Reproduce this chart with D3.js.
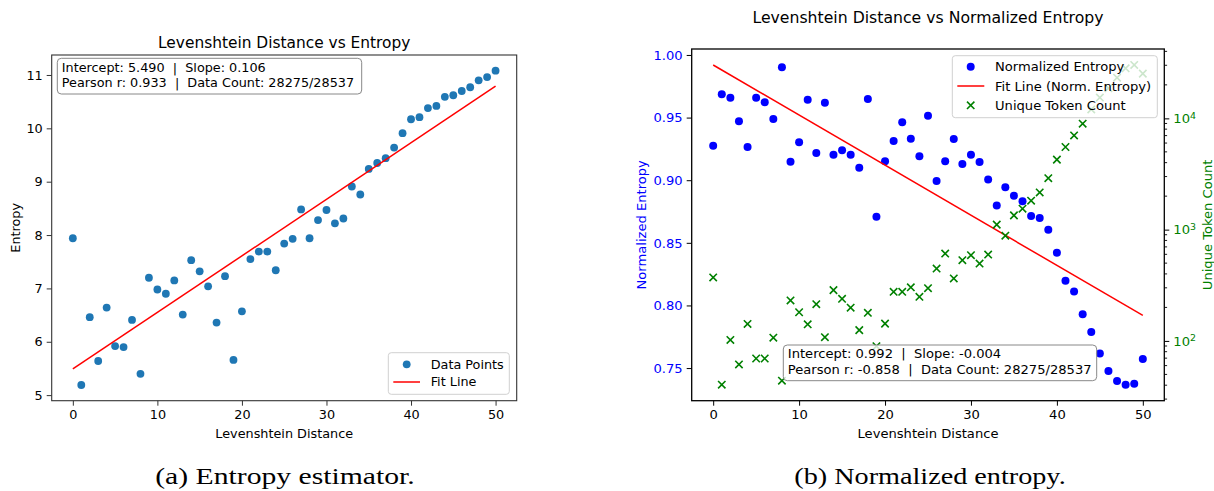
<!DOCTYPE html>
<html>
<head>
<meta charset="utf-8">
<script src="https://cdn.jsdelivr.net/npm/d3@7"></script>
<style>
  html, body { margin: 0; padding: 0; background: #fff; }
  svg { display: block; }
  text { font-family: "DejaVu Sans", sans-serif; }
  .caption { font-family: "Liberation Serif", "DejaVu Serif", serif; }
</style>
</head>
<body>
<svg id="fig" width="1214" height="491"></svg>
<script>
// Levenshtein distance buckets shared by both panels
const distances = [0,1,2,3,4,5,6,7,8,9,10,11,12,13,14,15,16,17,18,19,20,21,22,23,24,25,
  26,27,28,29,30,31,32,33,34,35,36,37,38,39,40,41,42,43,44,45,46,47,48,49,50];

// Panel (a): entropy per distance
const entropy = [7.94,5.19,6.46,5.64,6.64,5.92,5.90,6.41,5.40,7.20,6.98,6.90,7.15,6.51,7.53,7.32,
  7.04,6.36,7.23,5.66,6.57,7.55,7.69,7.69,7.34,7.84,7.93,8.48,7.94,8.28,8.47,8.22,8.31,8.91,
  8.76,9.24,9.35,9.44,9.64,9.91,10.17,10.21,10.38,10.42,10.59,10.62,10.70,10.77,10.90,10.96,11.08];
const entropyFit = { intercept: 5.490, slope: 0.106, r: 0.933 };

// Panel (b): normalized entropy and unique token counts per distance
const normEntropy = [0.9276,0.9686,0.9659,0.9470,0.9265,0.9659,0.9622,0.9489,0.9902,0.9148,0.9303,
  0.9643,0.9217,0.9619,0.9204,0.9239,0.9204,0.9100,0.9649,0.8708,0.9151,0.9313,0.9462,0.9332,
  0.9191,0.9515,0.8994,0.9151,0.9329,0.9129,0.9204,0.9145,0.9006,0.8799,0.8943,0.8876,0.8831,
  0.8714,0.8698,0.8605,0.8421,0.8197,0.8112,0.7929,0.7788,0.7617,0.7476,0.7396,0.7367,0.7375,0.7572];
const uniqueTokens = [372,40.4,102,61.4,142,69.5,69.5,107,43.9,231,181,141,214,108,286,239,199,125,
  179,89.7,143,276,276,303,249,298,447,609,364,531,589,496,597,1109,883,1343,1542,1820,2158,2898,
  4258,5530,7030,8950,12030,15390,18670,23220,28180,30180,25240];
const normFit = { intercept: 0.992, slope: -0.004, r: -0.858 };

const dataCount = "28275/28537";
const xTicks = [0,10,20,30,40,50];
const entropyTicks = [5,6,7,8,9,10,11];
const normTicks = [0.75,0.80,0.85,0.90,0.95,1.00];
const tokenTicks = [100,1000,10000];

const svg = d3.select("#fig");

// matplotlib-style autoscale: 5% padding on each side
function padded(lo, hi) { const m = (hi - lo) * 0.05; return [lo - m, hi + m]; }

function fitValue(fit, x) { return fit.intercept + fit.slope * x; }

function styleAxis(g, color, size, labelColor) {
  g.select(".domain").remove();
  g.selectAll(".tick line").attr("stroke", color).attr("stroke-width", 1);
  g.selectAll(".tick text").attr("fill", labelColor || "#000")
    .style("font-size", size + "px").style("font-family", "DejaVu Sans");
}

function statBox(g, x, y, w, h, lines, fs) {
  g.append("rect").attr("x", x).attr("y", y).attr("width", w).attr("height", h)
    .attr("rx", 4).attr("fill", "rgba(255,255,255,0.8)").attr("stroke", "#888").attr("stroke-width", 1);
  lines.forEach((t, i) => {
    g.append("text").attr("x", x + 4.5).attr("y", y + 13.4 + i * 15.2)
      .style("font-size", fs + "px").attr("fill", "#000").attr("xml:space", "preserve").text(t);
  });
}

function legendBox(g, x, y, w, h) {
  g.append("rect").attr("x", x).attr("y", y).attr("width", w).attr("height", h)
    .attr("rx", 3).attr("fill", "rgba(255,255,255,0.8)").attr("stroke", "#d0d0d0").attr("stroke-width", 1);
}

function crossPath(cx, cy, s) {
  return `M${cx - s},${cy - s}L${cx + s},${cy + s}M${cx - s},${cy + s}L${cx + s},${cy - s}`;
}

function caption(x, text) {
  svg.append("text").attr("class", "caption").attr("x", x).attr("y", 484)
    .attr("text-anchor", "middle").style("font-size", "23.5px")
    .attr("textLength", text.length * 11.8).attr("lengthAdjust", "spacingAndGlyphs").text(text);
}

// ---------------- Panel (a) ----------------
(function () {
  const L = 51.7, R = 516.7, T = 55, B = 400.7, fs = 12.8;
  const fitEnds = [fitValue(entropyFit, distances[0]), fitValue(entropyFit, distances[distances.length - 1])];
  const x = d3.scaleLinear().domain(padded(d3.min(distances), d3.max(distances))).range([L, R]);
  const y = d3.scaleLinear()
    .domain(padded(d3.min(entropy.concat(fitEnds)), d3.max(entropy.concat(fitEnds)))).range([B, T]);
  const g = svg.append("g");

  g.append("text").attr("x", (L + R) / 2).attr("y", 48).attr("text-anchor", "middle")
    .style("font-size", "15.4px").text("Levenshtein Distance vs Entropy");

  const gx = g.append("g").attr("transform", `translate(0,${B})`)
    .call(d3.axisBottom(x).tickValues(xTicks).tickSize(5).tickPadding(4).tickFormat(d3.format("d")));
  styleAxis(gx, "#333", fs);
  const gy = g.append("g").attr("transform", `translate(${L},0)`)
    .call(d3.axisLeft(y).tickValues(entropyTicks).tickSize(5).tickPadding(4).tickFormat(d3.format("d")));
  styleAxis(gy, "#333", fs);

  g.append("text").attr("x", (L + R) / 2).attr("y", 438).attr("text-anchor", "middle")
    .style("font-size", fs + "px").text("Levenshtein Distance");
  g.append("text").attr("transform", `translate(19.5,${(T + B) / 2}) rotate(-90)`)
    .attr("text-anchor", "middle").style("font-size", fs + "px").text("Entropy");

  g.selectAll("circle.pt").data(distances).join("circle").attr("class", "pt")
    .attr("cx", d => x(d)).attr("cy", (d, i) => y(entropy[i])).attr("r", 3.9).attr("fill", "#1f77b4");

  g.append("line")
    .attr("x1", x(distances[0])).attr("y1", y(fitEnds[0]))
    .attr("x2", x(distances[distances.length - 1])).attr("y2", y(fitEnds[1]))
    .attr("stroke", "#ff0000").attr("stroke-width", 1.5);

  g.append("rect").attr("x", L).attr("y", T).attr("width", R - L).attr("height", B - T)
    .attr("fill", "none").attr("stroke", "#333").attr("stroke-width", 1.1);

  statBox(g, 57.3, 58.3, 304.4, 35.7, [
    `Intercept: ${entropyFit.intercept.toFixed(3)}  |  Slope: ${entropyFit.slope.toFixed(3)}`,
    `Pearson r: ${entropyFit.r.toFixed(3)}  |  Data Count: ${dataCount}`], fs);

  legendBox(g, 388.3, 352.7, 121, 41.6);
  g.append("circle").attr("cx", 406.7).attr("cy", 364.3).attr("r", 3.9).attr("fill", "#1f77b4");
  g.append("line").attr("x1", 393.3).attr("x2", 420).attr("y1", 382).attr("y2", 382)
    .attr("stroke", "#ff0000").attr("stroke-width", 1.5);
  g.append("text").attr("x", 430.7).attr("y", 364.3).attr("dy", "0.35em").style("font-size", fs + "px").text("Data Points");
  g.append("text").attr("x", 430.7).attr("y", 382).attr("dy", "0.35em").style("font-size", fs + "px").text("Fit Line");

  caption(285, "(a) Entropy estimator.");
})();

// ---------------- Panel (b) ----------------
(function () {
  const L = 691.7, R = 1164.3, T = 49, B = 400.7, fs = 13.1;
  const fitEnds = [fitValue(normFit, distances[0]), fitValue(normFit, distances[distances.length - 1])];
  const x = d3.scaleLinear().domain(padded(d3.min(distances), d3.max(distances))).range([L, R]);
  const y = d3.scaleLinear()
    .domain(padded(d3.min(normEntropy.concat(fitEnds)), d3.max(normEntropy.concat(fitEnds)))).range([B, T]);
  const logExt = padded(Math.log10(d3.min(uniqueTokens)), Math.log10(d3.max(uniqueTokens)));
  const y2 = d3.scaleLog().domain([Math.pow(10, logExt[0]), Math.pow(10, logExt[1])]).range([B, T]);
  const g = svg.append("g");

  g.append("text").attr("x", (L + R) / 2).attr("y", 22.5).attr("text-anchor", "middle")
    .style("font-size", "15.7px").text("Levenshtein Distance vs Normalized Entropy");

  const gx = g.append("g").attr("transform", `translate(0,${B})`)
    .call(d3.axisBottom(x).tickValues(xTicks).tickSize(5).tickPadding(4).tickFormat(d3.format("d")));
  styleAxis(gx, "#000", fs);
  const gy = g.append("g").attr("transform", `translate(${L},0)`)
    .call(d3.axisLeft(y).tickValues(normTicks).tickSize(5).tickPadding(4).tickFormat(d3.format(".2f")));
  styleAxis(gy, "#000", fs, "#0000ff");

  // log axis on the right: majors with exponent labels, minors at 2..9 per decade
  const [lo, hi] = y2.domain();
  const minor = [];
  for (let e = Math.floor(Math.log10(lo)); e <= Math.ceil(Math.log10(hi)); e++) {
    for (let k = 2; k <= 9; k++) { const v = k * Math.pow(10, e); if (v >= lo && v <= hi) minor.push(v); }
  }
  g.selectAll("line.minor").data(minor).join("line").attr("class", "minor")
    .attr("x1", R).attr("x2", R + 2.8).attr("y1", d => y2(d)).attr("y2", d => y2(d))
    .attr("stroke", "#000").attr("stroke-width", 0.9);
  const gr = g.append("g").attr("transform", `translate(${R},0)`)
    .call(d3.axisRight(y2).tickValues(tokenTicks).tickSize(5).tickPadding(4).tickFormat(() => ""));
  styleAxis(gr, "#000", fs, "#008000");
  gr.selectAll(".tick text").each(function (d) {
    const t = d3.select(this);
    t.text(null);
    t.append("tspan").text("10");
    t.append("tspan").attr("dy", "-0.45em").style("font-size", (fs * 0.72) + "px").text(Math.round(Math.log10(d)));
  });

  g.append("text").attr("x", (L + R) / 2).attr("y", 438).attr("text-anchor", "middle")
    .style("font-size", fs + "px").text("Levenshtein Distance");
  g.append("text").attr("transform", `translate(646,${(T + B) / 2}) rotate(-90)`)
    .attr("text-anchor", "middle").attr("fill", "#0000ff").style("font-size", fs + "px").text("Normalized Entropy");
  g.append("text").attr("transform", `translate(1212,${(T + B) / 2}) rotate(-90)`)
    .attr("text-anchor", "middle").attr("fill", "#008000").style("font-size", fs + "px").text("Unique Token Count");

  g.selectAll("circle.pt").data(distances).join("circle").attr("class", "pt")
    .attr("cx", d => x(d)).attr("cy", (d, i) => y(normEntropy[i])).attr("r", 4).attr("fill", "#0000ff");

  g.append("line")
    .attr("x1", x(distances[0])).attr("y1", y(fitEnds[0]))
    .attr("x2", x(distances[distances.length - 1])).attr("y2", y(fitEnds[1]))
    .attr("stroke", "#ff0000").attr("stroke-width", 1.5);

  g.selectAll("path.tok").data(distances).join("path").attr("class", "tok")
    .attr("d", (d, i) => crossPath(x(d), y2(uniqueTokens[i]), 3.7))
    .attr("stroke", "#008000").attr("stroke-width", 1.6).attr("fill", "none");

  g.append("rect").attr("x", L).attr("y", T).attr("width", R - L).attr("height", B - T)
    .attr("fill", "none").attr("stroke", "#000").attr("stroke-width", 1.3);

  statBox(g, 783.3, 345, 313.4, 35.7, [
    `Intercept: ${normFit.intercept.toFixed(3)}  |  Slope: ${normFit.slope.toFixed(3)}`,
    `Pearson r: ${normFit.r.toFixed(3)}  |  Data Count: ${dataCount}`], fs);

  legendBox(g, 952.3, 55.7, 205, 62);
  g.append("circle").attr("cx", 970.7).attr("cy", 66.7).attr("r", 4).attr("fill", "#0000ff");
  g.append("line").attr("x1", 957.3).attr("x2", 984.3).attr("y1", 86).attr("y2", 86)
    .attr("stroke", "#ff0000").attr("stroke-width", 1.5);
  g.append("path").attr("d", crossPath(970.7, 105.3, 3.7)).attr("stroke", "#008000")
    .attr("stroke-width", 1.6).attr("fill", "none");
  [["Normalized Entropy", 66.7], ["Fit Line (Norm. Entropy)", 86], ["Unique Token Count", 105.3]].forEach(([t, yy]) => {
    g.append("text").attr("x", 995).attr("y", yy).attr("dy", "0.35em").style("font-size", fs + "px").text(t);
  });

  caption(930, "(b) Normalized entropy.");
})();
</script>
</body>
</html>
